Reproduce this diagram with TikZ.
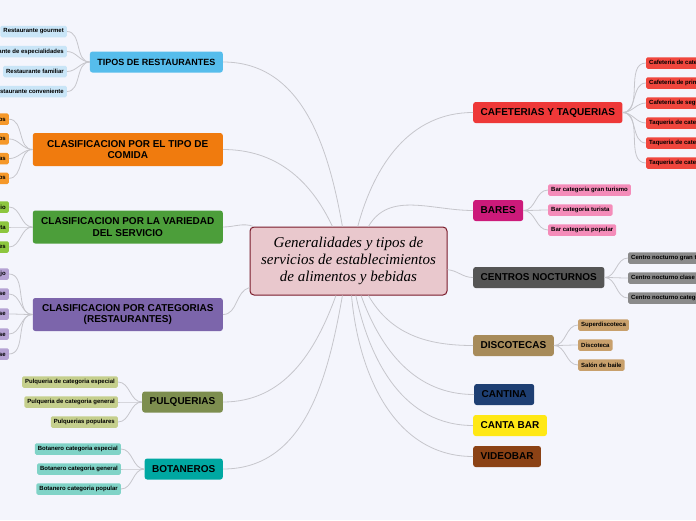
\documentclass[tikz,border=0pt]{standalone}
\usepackage{fontspec}
\setmainfont{Liberation Sans}
\newfontfamily\centrefont{Liberation Serif}
\usetikzlibrary{positioning}
\definecolor{bgtint}{HTML}{F4F5FC}
\definecolor{linkgray}{HTML}{C6C6CC}
\definecolor{centrefill}{HTML}{E9C8CD}
\definecolor{centredraw}{HTML}{7A1B2B}
\definecolor{tiposblue}{HTML}{56BDEC}
\definecolor{tiposleaf}{HTML}{C9E5F7}
\definecolor{comidaorange}{HTML}{F07B0E}
\definecolor{comidaleaf}{HTML}{F5982A}
\definecolor{variedadgreen}{HTML}{4C9E3A}
\definecolor{variedadleaf}{HTML}{8DC63F}
\definecolor{catpurple}{HTML}{7C65AB}
\definecolor{catleaf}{HTML}{B5A2D3}
\definecolor{pulqolive}{HTML}{7D8E4F}
\definecolor{pulqleaf}{HTML}{C5CF8D}
\definecolor{botteal}{HTML}{00A8A2}
\definecolor{botleaf}{HTML}{80D3C7}
\definecolor{cafred}{HTML}{EE3838}
\definecolor{cafleaf}{HTML}{F0463D}
\definecolor{barmagenta}{HTML}{CC1A7A}
\definecolor{barleaf}{HTML}{F48CB9}
\definecolor{centrogray}{HTML}{555555}
\definecolor{centroleaf}{HTML}{8A8A8A}
\definecolor{discotan}{HTML}{A78B5A}
\definecolor{discoleaf}{HTML}{C8A06C}
\definecolor{cantinablue}{HTML}{1E3F73}
\definecolor{cantayellow}{HTML}{FFE815}
\definecolor{videobrown}{HTML}{8B4215}

\begin{document}
\begin{tikzpicture}[x=1pt,y=-1pt,
 link/.style={draw=linkgray,line width=.8pt},
 branch/.style={rounded corners=2.5pt,font=\fontsize{10}{11.5}\selectfont\bfseries,
  inner xsep=7.5pt,inner ysep=0pt,minimum height=21pt,align=center},
 widebranch/.style={branch,minimum width=190pt,minimum height=33pt},
 leaf/.style={rounded corners=1.5pt,font=\fontsize{6}{7}\selectfont\bfseries,
  inner xsep=3pt,inner ysep=0pt,minimum height=11.5pt}]
 \useasboundingbox (0,0) rectangle (696,520);
 \clip (0,0) rectangle (696,520);
 \fill[bgtint] (0,0) rectangle (696,520);

 % centre
 \node[draw=centredraw,fill=centrefill,line width=1pt,rounded corners=4pt,
  minimum width=197pt,minimum height=68pt,align=center,
  font=\centrefont\itshape\fontsize{15}{17}\selectfont] (centre) at (348.5,261)
  {Generalidades y tipos de\\servicios de establecimientos\\de alimentos y bebidas};

 % left branches
 \node[branch,fill=tiposblue,anchor=east,font=\fontsize{9}{11}\selectfont\bfseries]
  (tipos) at (223,62) {TIPOS DE RESTAURANTES};
 \node[widebranch,fill=comidaorange,anchor=east] (comida) at (223,149.5)
  {CLASIFICACION POR EL TIPO DE\\COMIDA};
 \node[widebranch,fill=variedadgreen,anchor=east] (variedad) at (223,227)
  {CLASIFICACION POR LA VARIEDAD\\DEL SERVICIO};
 \node[widebranch,fill=catpurple,anchor=east] (categorias) at (223,314.5)
  {CLASIFICACION POR CATEGORIAS\\(RESTAURANTES)};
 \node[branch,fill=pulqolive,anchor=east] (pulquerias) at (223,402) {PULQUERIAS};
 \node[branch,fill=botteal,anchor=east] (botaneros) at (223,469) {BOTANEROS};

 % right branches
 \node[branch,fill=cafred,anchor=west] (cafeterias) at (473,112.5) {CAFETERIAS Y TAQUERIAS};
 \node[branch,fill=barmagenta,anchor=west] (bares) at (473,210.5) {BARES};
 \node[branch,fill=centrogray,anchor=west] (centros) at (473,277.5) {CENTROS NOCTURNOS};
 \node[branch,fill=discotan,anchor=west] (discotecas) at (473,345.5) {DISCOTECAS};
 \node[branch,fill=cantinablue,anchor=west] (cantina) at (474,394.5) {CANTINA};
 \node[branch,fill=cantayellow,anchor=west] (cantabar) at (473,425.5) {CANTA BAR};
 \node[branch,fill=videobrown,anchor=west] (videobar) at (473,456.5) {VIDEOBAR};

 \draw[link] (centre) to[out=100,in=0] (tipos.east);
 \draw[link] (centre) to[out=115,in=0] (comida.east);
 \draw[link] (centre) to[out=160,in=0] (variedad.east);
 \draw[link] (centre) to[out=195,in=0] (categorias.east);
 \draw[link] (centre) to[out=250,in=0] (pulquerias.east);
 \draw[link] (centre) to[out=260,in=0] (botaneros.east);
 \draw[link] (centre) to[out=75,in=180] (cafeterias.west);
 \draw[link] (centre) to[out=60,in=180] (bares.west);
 \draw[link] (centre) to[out=-5,in=180] (centros.west);
 \draw[link] (centre) to[out=-60,in=180] (discotecas.west);
 \draw[link] (centre) to[out=-70,in=180] (cantina.west);
 \draw[link] (centre) to[out=-78,in=180] (cantabar.west);
 \draw[link] (centre) to[out=-85,in=180] (videobar.west);

 % leaves, left
 \foreach \txt [count=\i] in {Restaurante gourmet,Restaurante de especialidades,
   Restaurante familiar,Restaurante conveniente} {
  \node[leaf,fill=tiposleaf,anchor=east] (tipos\i) at (67,{11.5+20*\i}) {\txt};
  \draw[link] (tipos.west) to[out=180,in=0] (tipos\i.east);}
 \foreach \txt [count=\i] in {Restaurantes de mariscos,Restaurantes vegetarianos,
   Restaurantes de carnes asadas,Restaurantes t\'ipicos} {
  \node[leaf,fill=comidaleaf,anchor=east] (comida\i) at (9,{99.5+19.7*\i}) {\txt};
  \draw[link] (comida.west) to[out=180,in=0] (comida\i.east);}
 \foreach \txt [count=\i] in {Autoservicio,Servicio a la carta,Servicios especiales} {
  \node[leaf,fill=variedadleaf,anchor=east] (variedad\i) at (9,{187+20*\i}) {\txt};
  \draw[link] (variedad.west) to[out=180,in=0] (variedad\i.east);}
 \foreach \txt [count=\i] in {Restaurante de lujo,Restaurante de primera clase,
   Restaurante de segunda clase,Restaurante de tercera clase,Restaurante de cuarta clase} {
  \node[leaf,fill=catleaf,anchor=east] (categorias\i) at (9,{254+20*\i}) {\txt};
  \draw[link] (categorias.west) to[out=180,in=0] (categorias\i.east);}
 \foreach \txt [count=\i] in {Pulqueria de categoria especial,
   Pulqueria de categoria general,Pulquerias populares} {
  \node[leaf,fill=pulqleaf,anchor=east] (pulquerias\i) at (118,{362+20*\i}) {\txt};
  \draw[link] (pulquerias.west) to[out=180,in=0] (pulquerias\i.east);}
 \foreach \txt [count=\i] in {Botanero categoria especial,Botanero categoria general,
   Botanero categoria popular} {
  \node[leaf,fill=botleaf,anchor=east] (botaneros\i) at (121,{429+20*\i}) {\txt};
  \draw[link] (botaneros.west) to[out=180,in=0] (botaneros\i.east);}

 % leaves, right
 \foreach \txt [count=\i] in {Cafeteria de categoria especial,Cafeteria de primera,
   Cafeteria de segunda,Taqueria de categoria especial,Taqueria de categoria general,
   Taqueria de categoria popular} {
  \node[leaf,fill=cafleaf,anchor=west] (cafeterias\i) at (646,{43+20*\i}) {\txt};
  \draw[link] (cafeterias.east) to[out=0,in=180] (cafeterias\i.west);}
 \foreach \txt [count=\i] in {Bar categoria gran turismo,Bar categoria turista,
   Bar categoria popular} {
  \node[leaf,fill=barleaf,anchor=west] (bares\i) at (548,{170+20*\i}) {\txt};
  \draw[link] (bares.east) to[out=0,in=180] (bares\i.west);}
 \foreach \txt [count=\i] in {Centro nocturno gran turismo,Centro nocturno clase especial,
   Centro nocturno categoria popular} {
  \node[leaf,fill=centroleaf,anchor=west] (centros\i) at (628,{238+20*\i}) {\txt};
  \draw[link] (centros.east) to[out=0,in=180] (centros\i.west);}
 \foreach \txt [count=\i] in {Superdiscoteca,Discoteca,Sal\'on de baile} {
  \node[leaf,fill=discoleaf,anchor=west] (discotecas\i) at (578,{305+20*\i}) {\txt};
  \draw[link] (discotecas.east) to[out=0,in=180] (discotecas\i.west);}
\end{tikzpicture}
\end{document}
